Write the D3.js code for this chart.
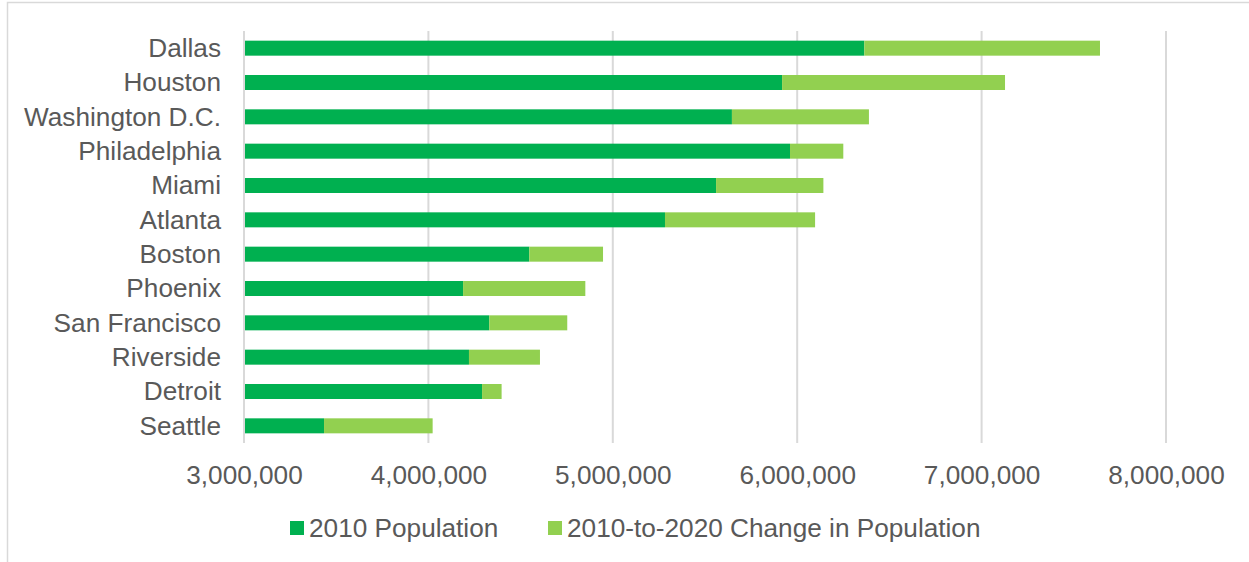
<!DOCTYPE html>
<html>
<head>
<meta charset="utf-8">
<script src="https://cdn.jsdelivr.net/npm/d3@7"></script>
<style>
  html, body { margin: 0; padding: 0; background: #ffffff; }
  svg { display: block; font-family: "Liberation Sans", Arial, sans-serif; }
</style>
</head>
<body>
<svg id="chart" width="1249" height="562"></svg>
<script>
// Metro areas, top to bottom
const cities = ["Dallas", "Houston", "Washington D.C.", "Philadelphia", "Miami", "Atlanta",
                "Boston", "Phoenix", "San Francisco", "Riverside", "Detroit", "Seattle"];
// 2010 population
const pop2010 = [6364000, 5918000, 5646000, 5961000, 5560000, 5283000,
                 4547000, 4188000, 4330000, 4220000, 4291000, 3434000];
// Change in population 2010 to 2020
const change = [1278000, 1209000, 743000, 289000, 582000, 814000,
                400000, 663000, 423000, 385000, 106000, 589000];
const tickValues = [3000000, 4000000, 5000000, 6000000, 7000000, 8000000];
const seriesNames = ["2010 Population", "2010-to-2020 Change in Population"];
const seriesColors = ["#00B050", "#92D050"];

const svg = d3.select("#chart");
const textColor = "#595959";
const gridColor = "#d9d9d9";
const fontSize = 26.2;

// chart frame
svg.append("rect")
  .attr("x", 7.5).attr("y", 2.5)
  .attr("width", 1300).attr("height", 700)
  .attr("fill", "#fff").attr("stroke", gridColor).attr("stroke-width", 1.5);

const plot = { left: 244, right: 1166, top: 31, bottom: 443 };

const x = d3.scaleLinear()
  .domain([3000000, 8000000])
  .range([plot.left, plot.right]);

const y = d3.scaleBand()
  .domain(cities)
  .range([plot.top, plot.bottom])
  .paddingInner(0.563)
  .paddingOuter(0.2815);

// vertical gridlines
svg.append("g").selectAll("line")
  .data(tickValues)
  .join("line")
  .attr("x1", d => x(d)).attr("x2", d => x(d))
  .attr("y1", plot.top).attr("y2", plot.bottom)
  .attr("stroke", gridColor).attr("stroke-width", 2);

// stacked bars
const stacked = cities.map((c, i) => ({ city: c, base: pop2010[i], total: pop2010[i] + change[i] }));
const bars = svg.append("g");
bars.selectAll("rect.base")
  .data(stacked)
  .join("rect")
  .attr("class", "base")
  .attr("x", x(3000000))
  .attr("y", d => y(d.city))
  .attr("width", d => x(d.base) - x(3000000))
  .attr("height", y.bandwidth())
  .attr("fill", seriesColors[0]);
bars.selectAll("rect.chg")
  .data(stacked)
  .join("rect")
  .attr("class", "chg")
  .attr("x", d => x(d.base))
  .attr("y", d => y(d.city))
  .attr("width", d => x(d.total) - x(d.base))
  .attr("height", y.bandwidth())
  .attr("fill", seriesColors[1]);

// category axis
const yAxis = svg.append("g")
  .attr("transform", `translate(${plot.left},0)`)
  .call(d3.axisLeft(y).tickSize(0).tickPadding(23));
yAxis.select(".domain").attr("stroke", gridColor).attr("stroke-width", 2)
  .attr("d", `M0,${plot.top}V${plot.bottom}`);
yAxis.selectAll("text")
  .attr("fill", textColor)
  .attr("font-size", fontSize)
  .attr("font-family", "Liberation Sans, Arial, sans-serif")
  .attr("dy", "0.34em");

// value axis
const xAxis = svg.append("g")
  .attr("transform", `translate(0,${plot.bottom})`)
  .call(d3.axisBottom(x).tickValues(tickValues).tickFormat(d3.format(",")).tickSize(0).tickPadding(0));
xAxis.select(".domain").remove();
xAxis.selectAll("text")
  .attr("fill", textColor)
  .attr("font-size", fontSize)
  .attr("font-family", "Liberation Sans, Arial, sans-serif")
  .attr("y", 41)
  .attr("dy", 0);

// legend
const legendItems = [{ x: 290, name: seriesNames[0], color: seriesColors[0] },
                     { x: 548, name: seriesNames[1], color: seriesColors[1] }];
const legend = svg.append("g").selectAll("g")
  .data(legendItems)
  .join("g")
  .attr("transform", d => `translate(${d.x},521)`);
legend.append("rect")
  .attr("width", 14).attr("height", 14)
  .attr("fill", d => d.color);
legend.append("text")
  .attr("x", 19).attr("y", 15.5)
  .attr("fill", textColor)
  .attr("font-size", fontSize)
  .text(d => d.name);
</script>
</body>
</html>
